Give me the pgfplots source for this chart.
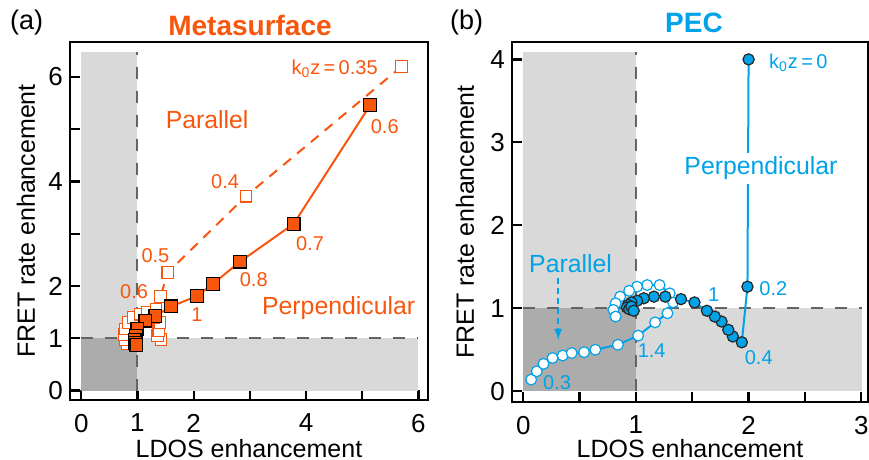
\documentclass[border=0pt]{standalone}
\usepackage{pgfplots}
\pgfplotsset{compat=1.18}
\usepackage{fontspec}
\setmainfont{Liberation Sans}
\definecolor{orng}{RGB}{248,86,12}
\definecolor{blu}{RGB}{0,162,232}
\definecolor{lgray}{RGB}{217,217,217}
\definecolor{dgray}{RGB}{172,172,172}
\definecolor{dashg}{RGB}{100,100,100}
\tikzset{
  numlab/.style={font=\fontsize{10}{12}\selectfont},
  annlab/.style={font=\fontsize{12.4}{15}\selectfont},
}
\pgfplotsset{
  myaxis/.style={
    scale only axis,
    axis line style={line width=1.2pt},
    every tick/.style={line width=1.1pt, black},
    major tick length=5pt,
    tick align=inside,
    tick pos=left,
    /pgf/number format/assume math mode=true,
    ticklabel style={font=\fontsize{13}{15}\selectfont},
    xticklabel style={yshift=-3.5pt},
    label style={font=\fontsize{12.5}{15}\selectfont},
  },
}
\begin{document}
\begin{tikzpicture}
\useasboundingbox (0,0) rectangle (434.5pt,230pt);
% ---------------- (a) Metasurface ----------------
\begin{axis}[myaxis,
  at={(35pt,30pt)}, anchor=south west,
  width=179pt, height=179pt,
  xmin=-0.2, xmax=6.17, ymin=-0.18, ymax=6.67,
  xtick={0,1,2,3,4,5,6}, xticklabels={0,1,2,,4,,6},
  ytick={0,1,2,3,4,5,6}, yticklabels={0,1,2,,4,,6},
  xlabel={LDOS enhancement}, ylabel={FRET rate enhancement},
  xlabel style={at={(axis description cs:0.5,-0.160)}, anchor=base, inner sep=0pt},
  ylabel style={at={(axis description cs:-0.123,0.5)}, anchor=center},
]
\addplot[draw=none, fill=lgray] coordinates {(0,0) (1,0) (1,6.48) (0,6.48)} -- cycle;
\addplot[draw=none, fill=lgray] coordinates {(1,0) (6,0) (6,1) (1,1)} -- cycle;
\addplot[draw=none, fill=dgray] coordinates {(0,0) (1,0) (1,1) (0,1)} -- cycle;
\addplot[dashg, line width=1pt, dash pattern=on 6pt off 6pt] coordinates {(1,0) (1,6.48)};
\addplot[dashg, line width=1pt, dash pattern=on 6pt off 6pt] coordinates {(0,1) (6,1)};
% parallel (open squares, dashed)
\addplot[orng, line width=1pt, dash pattern=on 5pt off 4pt, mark=square*, mark size=2.9pt,
  mark options={solid, fill=white, draw=orng, line width=0.6pt}]
  coordinates {(5.70,6.20) (2.93,3.72) (1.54,2.26) (1.41,1.80)};
\addplot[only marks, mark=square*, mark size=2.9pt,
  mark options={solid, fill=white, draw=orng, line width=0.6pt}]
  coordinates {(1.42,0.98) (1.36,1.05) (1.38,1.15) (1.40,1.30) (1.28,1.40)
  (0.82,0.89) (0.78,0.97) (0.76,1.07) (0.78,1.18) (0.84,1.30) (0.93,1.40)
  (1.05,1.46) (1.18,1.50) (1.33,1.55)};
% perpendicular (filled squares, solid)
\addplot[orng, line width=1pt, mark=square*, mark size=3.2pt,
  mark options={fill=orng, draw=black, line width=0.6pt}]
  coordinates {(5.14,5.46) (3.78,3.19) (2.83,2.47) (2.34,2.04) (2.06,1.81)
  (1.60,1.61) (1.32,1.43) (1.14,1.34) (1.00,1.18) (0.97,1.05) (0.95,0.97)
  (0.96,0.92) (0.98,0.87)};
\node[annlab, orng] at (axis cs:2.24,5.19) {Parallel};
\node[annlab, orng] at (axis cs:4.58,1.58) {Perpendicular};
\node[numlab, orng, anchor=east] at (axis cs:5.40,6.16) {k\textsubscript{0}z\,=\,0.35};
\node[numlab, orng] at (axis cs:5.40,5.05) {0.6};
\node[numlab, orng] at (axis cs:2.56,4.00) {0.4};
\node[numlab, orng] at (axis cs:4.07,2.82) {0.7};
\node[numlab, orng] at (axis cs:3.07,2.12) {0.8};
\node[numlab, orng] at (axis cs:2.06,1.45) {1};
\node[numlab, orng] at (axis cs:1.32,2.59) {0.5};
\node[numlab, orng] at (axis cs:0.94,1.89) {0.6};
\end{axis}
% ---------------- (b) PEC ----------------
\begin{axis}[myaxis,
  at={(256pt,29pt)}, anchor=south west,
  width=178pt, height=180pt,
  xmin=-0.1, xmax=3.06, ymin=-0.13, ymax=4.21,
  xtick={0,0.5,1,1.5,2,2.5,3}, xticklabels={0,,1,,2,,3},
  ytick={0,1,2,3,4}, yticklabels={0,1,2,3,4},
  xlabel={LDOS enhancement}, ylabel={FRET rate enhancement},
  xlabel style={at={(axis description cs:0.5,-0.153)}, anchor=base, inner sep=0pt},
  ylabel style={at={(axis description cs:-0.132,0.5)}, anchor=center},
]
\addplot[draw=none, fill=lgray] coordinates {(0,0) (1,0) (1,4.09) (0,4.09)} -- cycle;
\addplot[draw=none, fill=lgray] coordinates {(1,0) (3.01,0) (3.01,1) (1,1)} -- cycle;
\addplot[draw=none, fill=dgray] coordinates {(0,0) (1,0) (1,1) (0,1)} -- cycle;
\addplot[dashg, line width=1pt, dash pattern=on 6pt off 6pt] coordinates {(1,0) (1,4.09)};
\addplot[dashg, line width=1pt, dash pattern=on 6pt off 6pt] coordinates {(0,1) (3.01,1)};
% parallel (open circles)
\addplot[blu, line width=1pt, mark=*, mark size=2.7pt,
  mark options={fill=white, draw=blu, line width=0.6pt}]
  coordinates {(0.07,0.14) (0.12,0.24) (0.18,0.33) (0.26,0.40) (0.35,0.43)
  (0.43,0.46) (0.54,0.47) (0.64,0.50) (0.84,0.56) (1.02,0.67) (1.17,0.83)
  (1.28,0.94) (1.33,1.07) (1.30,1.18) (1.21,1.28) (1.10,1.28) (1.01,1.26)
  (0.94,1.21) (0.86,1.14) (0.82,1.06) (0.80,0.98) (0.82,0.90)};
% perpendicular (filled circles)
\addplot[blu, line width=1pt, mark=*, mark size=2.8pt,
  mark options={fill=blu, draw=black!85, line width=0.6pt}]
  coordinates {(2.0,4.0) (1.99,1.26) (1.94,0.59) (1.86,0.66) (1.82,0.74)
  (1.76,0.84) (1.70,0.90) (1.63,0.97) (1.52,1.07) (1.40,1.11) (1.26,1.14)
  (1.16,1.14) (1.07,1.12) (1.01,1.09) (0.96,1.07) (0.93,1.04) (0.92,1.01)
  (0.94,0.99) (0.96,1.02) (0.98,0.97)};
\node[annlab, blu, fill=white, inner sep=2pt] at (axis cs:2.11,2.69) {Perpendicular};
\node[annlab, blu] at (axis cs:0.42,1.54) {Parallel};
\draw[blu, line width=0.9pt, dash pattern=on 3pt off 2pt, -latex] (axis cs:0.31,1.36) -- (axis cs:0.31,0.62);
\node[numlab, blu, anchor=west] at (axis cs:2.12,3.96) {k\textsubscript{0}z\,=\,0};
\node[numlab, blu] at (axis cs:2.22,1.24) {0.2};
\node[numlab, blu] at (axis cs:2.09,0.41) {0.4};
\node[numlab, blu] at (axis cs:1.69,1.17) {1};
\node[numlab, blu] at (axis cs:1.14,0.49) {1.4};
\node[numlab, blu] at (axis cs:0.30,0.10) {0.3};
\end{axis}
\node[font=\fontsize{13.5}{16}\selectfont] at (13.3pt,218.5pt) {(a)};
\node[font=\fontsize{14}{16}\selectfont\bfseries, orng] at (125pt,217.5pt) {Metasurface};
\node[font=\fontsize{13.5}{16}\selectfont] at (233.3pt,218.5pt) {(b)};
\node[font=\fontsize{14}{16}\selectfont\bfseries, blu] at (347pt,218.7pt) {PEC};
\end{tikzpicture}
\end{document}
